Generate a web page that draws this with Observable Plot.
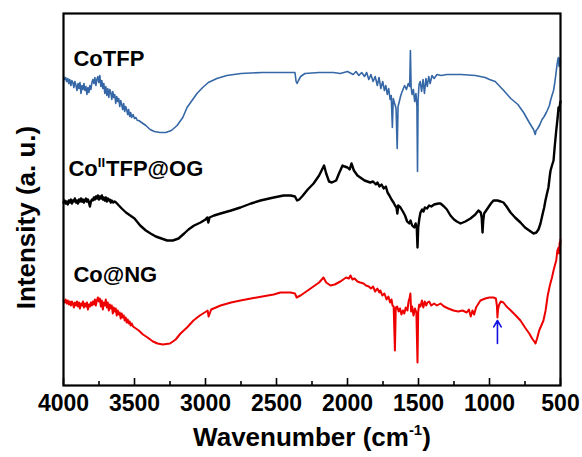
<!DOCTYPE html>
<html><head><meta charset="utf-8">
<script src="https://cdn.jsdelivr.net/npm/d3@7"></script>
<script src="https://cdn.jsdelivr.net/npm/@observablehq/plot@0.6"></script>
<style>body{margin:0;background:#fff;}</style>
</head><body><div id="chart"></div>
<script>
// [wavenumber (cm-1), intensity (a.u., offset per trace)]
const coTFP = [[4000,309],[3992,306],[3985,308],[3978,304],[3970,307],[3963,302],[3956,306],[3948,300],[3941,305],[3934,303],[3927,298],[3920,304],[3912,300],[3905,295],[3898,302],[3891,297],[3884,303],[3877,292],[3870,300],[3863,296],[3856,302],[3849,295],[3842,299],[3835,291],[3828,298],[3821,293],[3814,300],[3807,296],[3800,303],[3793,306],[3786,302],[3779,308],[3772,300],[3765,306],[3758,309],[3751,303],[3744,310],[3737,299],[3730,305],[3723,297],[3716,302],[3709,292],[3702,299],[3695,290],[3688,297],[3681,288],[3674,296],[3667,293],[3660,286],[3653,294],[3646,288],[3639,291],[3632,282],[3625,289],[3618,284],[3611,287],[3604,279],[3597,285],[3590,281],[3583,276],[3576,282],[3569,274],[3562,279],[3555,276],[3548,271],[3541,276],[3534,269],[3527,273],[3520,268],[3510,271],[3500,267],[3490,268],[3480,265],[3470,265],[3450,263],[3420,260],[3390,256],[3360,254],[3320,253],[3280,253],[3240,255],[3200,260],[3160,268],[3130,278],[3090,286],[3060,292],[3020,298],[2980,303],[2920,307],[2850,310],[2750,312],[2600,313],[2450,313],[2370,313],[2362,304],[2355,302],[2345,305],[2330,309],[2300,312],[2200,313],[2100,313],[2050,312],[2000,314],[1960,311],[1940,314],[1920,310],[1900,313],[1880,309],[1865,313],[1850,306],[1835,311],[1820,304],[1805,309],[1790,300],[1778,308],[1765,297],[1752,304],[1740,295],[1730,300],[1720,291],[1710,297],[1700,286],[1692,290],[1684,258],[1678,287],[1668,282],[1658,277],[1650,237],[1644,279],[1635,284],[1625,290],[1612,295],[1598,300],[1585,296],[1572,302],[1562,299],[1557,335],[1552,298],[1545,291],[1536,296],[1527,284],[1518,292],[1511,279],[1507,214],[1503,286],[1496,301],[1488,304],[1478,294],[1468,306],[1458,292],[1448,307],[1438,299],[1428,309],[1418,302],[1405,310],[1390,307],[1370,311],[1340,310],[1300,311],[1200,311],[1100,310],[1030,308],[1000,306],[960,304],[900,295],[850,287],[800,281],[760,273],[720,263],[690,256],[678,251],[672,255],[660,257],[645,261],[630,266],[615,269],[600,273],[590,276],[578,280],[570,285],[560,290],[549,295],[540,303],[532,312],[525,320],[520,325],[515,328],[510,319],[506,327],[502,322],[500,324]];

const coIITFPatOG = [[4000,183],[3992,185],[3985,182],[3978,184],[3970,181],[3963,185],[3956,183],[3948,186],[3941,182],[3934,185],[3927,184],[3920,187],[3912,183],[3905,185],[3898,182],[3891,186],[3884,184],[3877,187],[3870,184],[3863,186],[3856,183],[3849,185],[3842,187],[3835,184],[3828,186],[3821,183],[3814,179],[3807,184],[3800,186],[3793,185],[3786,188],[3779,186],[3772,189],[3765,187],[3758,190],[3751,186],[3744,189],[3737,187],[3730,190],[3723,186],[3716,188],[3709,185],[3702,188],[3695,184],[3688,187],[3681,185],[3674,186],[3667,183],[3660,185],[3650,183],[3640,184],[3630,183],[3610,180],[3590,177],[3560,173],[3530,170],[3500,167],[3460,160],[3420,155],[3387,152],[3350,149],[3310,147],[3270,145],[3230,145],[3190,147],[3150,152],[3120,156],[3080,160],[3035,163],[3000,166],[2988,168],[2980,163],[2972,168],[2940,170],[2894,172],[2820,175],[2754,178],[2680,182],[2613,185],[2520,188],[2450,190],[2400,190],[2370,189],[2355,185],[2340,186],[2320,189],[2280,196],[2239,202],[2200,210],[2165,220],[2150,212],[2130,204],[2110,203],[2080,205],[2060,212],[2035,220],[2020,219],[2000,218],[1985,216],[1972,222],[1955,215],[1930,210],[1900,207],[1880,205],[1860,204],[1840,203],[1820,204],[1800,201],[1789,203],[1775,199],[1760,201],[1745,197],[1730,199],[1718,193],[1705,190],[1690,186],[1676,183],[1665,180],[1655,178],[1649,172],[1643,180],[1635,179],[1627,178],[1610,174],[1595,170],[1580,164],[1565,162],[1556,165],[1545,160],[1530,158],[1520,162],[1512,157],[1507,138],[1502,158],[1494,167],[1486,173],[1475,176],[1465,174],[1455,178],[1440,177],[1425,180],[1410,179],[1390,181],[1360,182],[1345,182],[1320,179],[1300,176],[1275,170],[1250,166],[1230,164],[1204,162],[1170,164],[1134,167],[1100,171],[1078,175],[1062,173],[1055,168],[1049,153],[1044,165],[1038,172],[1014,177],[990,182],[972,185],[944,185],[920,184],[902,183],[880,179],[852,173],[820,168],[782,163],[750,158],[720,155],[690,152],[670,153],[655,156],[641,162],[625,172],[615,178],[606,185],[595,192],[585,198],[575,210],[570,215],[560,220],[549,225],[540,240],[530,255],[520,268],[514,278],[508,275],[503,282],[500,284]];

const coAtNG = [[4000,85],[3992,83],[3985,86],[3978,82],[3970,85],[3963,81],[3956,84],[3948,80],[3941,84],[3934,82],[3927,78],[3920,83],[3912,80],[3905,84],[3898,79],[3891,83],[3884,77],[3877,82],[3870,80],[3863,84],[3856,78],[3849,82],[3842,79],[3835,83],[3828,76],[3821,81],[3814,79],[3807,83],[3800,80],[3793,84],[3786,81],[3779,86],[3772,80],[3765,85],[3758,88],[3751,84],[3744,87],[3737,79],[3730,85],[3723,76],[3716,83],[3709,80],[3702,86],[3695,78],[3688,83],[3681,75],[3674,81],[3667,77],[3660,80],[3653,72],[3646,78],[3639,74],[3632,77],[3625,70],[3618,75],[3611,71],[3604,73],[3597,67],[3590,72],[3583,68],[3576,70],[3569,65],[3562,68],[3555,63],[3548,66],[3541,62],[3534,64],[3527,60],[3520,62],[3510,59],[3500,58],[3470,55],[3440,51],[3408,48],[3370,44],[3338,42],[3300,41],[3250,42],[3210,46],[3176,52],[3130,58],[3085,65],[3040,70],[2995,74],[2985,75],[2978,69],[2970,72],[2960,76],[2894,80],[2820,83],[2754,85],[2680,87],[2600,89],[2520,91],[2472,93],[2400,93],[2370,92],[2358,88],[2345,89],[2331,90],[2290,94],[2250,98],[2200,103],[2169,108],[2150,103],[2120,100],[2090,101],[2050,104],[2010,108],[1990,107],[1979,110],[1965,106],[1950,107],[1930,104],[1910,103],[1887,102],[1870,100],[1850,99],[1835,97],[1820,99],[1805,94],[1790,97],[1775,93],[1768,95],[1755,90],[1740,92],[1725,86],[1712,89],[1700,83],[1690,86],[1683,80],[1675,79],[1666,35],[1660,78],[1650,79],[1640,74],[1630,77],[1620,71],[1610,75],[1600,72],[1590,78],[1578,75],[1570,84],[1562,88],[1557,92],[1552,74],[1545,79],[1535,70],[1525,77],[1515,73],[1507,23],[1502,74],[1495,81],[1486,79],[1476,85],[1466,78],[1456,84],[1446,80],[1437,83],[1425,84],[1410,80],[1390,82],[1370,80],[1345,82],[1320,79],[1290,77],[1254,75],[1220,74],[1190,75],[1160,73],[1145,76],[1132,69],[1120,75],[1108,71],[1095,78],[1064,85],[1030,87],[1000,88],[972,88],[955,87],[948,80],[944,68],[940,76],[932,81],[920,84],[902,83],[880,79],[850,75],[815,70],[782,65],[750,58],[720,52],[700,47],[685,44],[676,42],[665,47],[650,55],[635,60],[620,65],[605,75],[590,90],[575,100],[560,108],[549,115],[540,120],[530,125],[522,135],[514,138],[510,132],[506,143],[502,140],[500,146]];

const majorTicks = [4000, 3500, 3000, 2500, 2000, 1500, 1000, 500];
const minorTicks = [3750, 3250, 2750, 2250, 1750, 1250, 750];
const traceLabels = [
  {text: "CoTFP", w: 3930, v: 327},
  {text: "CoIITFP@OG", w: 3965, v: 217},
  {text: "Co@NG", w: 3930, v: 111}
];
const arrowMark = [{w: 944, v1: 42, v2: 65}];

const font = "'Liberation Sans', Arial, Helvetica, sans-serif";

const svg = Plot.plot({
  width: 582, height: 457,
  marginLeft: 63, marginRight: 22, marginTop: 13, marginBottom: 72,
  style: {fontFamily: font, fontWeight: "bold", color: "#000", background: "#fff", overflow: "visible"},
  x: {domain: [4000, 500]},
  y: {domain: [0, 372], axis: null},
  marks: [
    Plot.line(coTFP, {x: d => d[0], y: d => d[1], stroke: "#3567a6", strokeWidth: 1.6}),
    Plot.line(coIITFPatOG, {x: d => d[0], y: d => d[1], stroke: "#000", strokeWidth: 2.4}),
    Plot.line(coAtNG, {x: d => d[0], y: d => d[1], stroke: "#ee0000", strokeWidth: 2}),
    Plot.arrow(arrowMark, {x1: "w", x2: "w", y1: "v1", y2: "v2", stroke: "#1010e0", strokeWidth: 1.6, headLength: 7}),
    Plot.tickX(majorTicks, {x: d => d, insetTop: 365, strokeWidth: 1.6}),
    Plot.tickX(minorTicks, {x: d => d, insetTop: 368, strokeWidth: 1.6}),
    Plot.axisX(majorTicks, {tickSize: 0, tickPadding: 9, fontSize: 23, label: null, tickFormat: d => String(d)}),
    Plot.frame({strokeWidth: 2.2}),
    Plot.text(traceLabels, {x: "w", y: "v", text: "text", textAnchor: "start", lineAnchor: "middle", fontSize: 22, fontWeight: "bold"}),
    Plot.text(["Wavenumber (cm-1)"], {frameAnchor: "bottom", dy: 52, fontSize: 26, fontWeight: "bold", lineAnchor: "middle"}),
    Plot.text(["Intensity (a. u.)"], {frameAnchor: "left", textAnchor: "middle", rotate: -90, dx: -37, dy: 18, fontSize: 26, fontWeight: "bold", lineAnchor: "middle"})
  ]
});

// superscripts
d3.select(svg).selectAll("text").each(function() {
  const t = d3.select(this);
  const s = this.textContent;
  if (s === "CoIITFP@OG") {
    t.text("");
    t.append("tspan").text("Co");
    t.append("tspan").attr("font-size", 13).attr("dy", -9).text("II");
    t.append("tspan").attr("font-size", 22).attr("dy", 9).attr("dx", 1).text("TFP@OG");
  } else if (s === "Wavenumber (cm-1)") {
    t.text("");
    t.append("tspan").text("Wavenumber (cm");
    t.append("tspan").attr("font-size", 15).attr("dy", -11).text("-1");
    t.append("tspan").attr("dy", 11).text(")");
  }
});

document.getElementById("chart").appendChild(svg);
</script>
</body></html>
